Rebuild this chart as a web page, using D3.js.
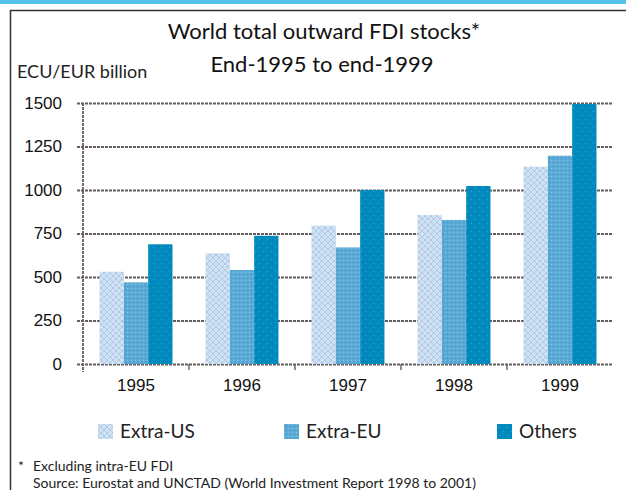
<!DOCTYPE html>
<html>
<head>
<meta charset="utf-8">
<script src="https://cdn.jsdelivr.net/npm/d3@7"></script>
<style>
  body { margin: 0; background: #fff; }
  svg { display: block; }
</style>
</head>
<body>
<svg id="chart" width="626" height="490"></svg>
<script>
// data (ECU/EUR billion)
var years = ['1995', '1996', '1997', '1998', '1999'];
var seriesNames = ['Extra-US', 'Extra-EU', 'Others'];
var extraUS = [530, 636, 795, 856, 1134];
var extraEU = [469, 540, 670, 828, 1197];
var others = [688, 737, 1000, 1023, 1494];
var yTicks = [0, 250, 500, 750, 1000, 1250, 1500];

var seriesValues = [extraUS, extraEU, others];
var fills = ['url(#patUS)', 'url(#patEU)', 'url(#patOT)'];

var svg = d3.select('#chart');
var defs = svg.append('defs');

// light blue with lavender cross hatch
var p1 = defs.append('pattern').attr('id', 'patUS')
    .attr('patternUnits', 'userSpaceOnUse').attr('width', 6).attr('height', 6);
p1.append('rect').attr('width', 6).attr('height', 6).attr('fill', '#cbe6f3');
p1.append('path').attr('d', 'M0,6 L6,0 M0,0 L6,6')
    .attr('stroke', '#b9b8e6').attr('stroke-width', 0.8);

// medium blue, dotted
var p2 = defs.append('pattern').attr('id', 'patEU')
    .attr('patternUnits', 'userSpaceOnUse').attr('width', 4).attr('height', 4);
p2.append('rect').attr('width', 4).attr('height', 4).attr('fill', '#5ba9d5');
p2.append('rect').attr('x', 0).attr('y', 0).attr('width', 1).attr('height', 1).attr('fill', '#8cc4e4');
p2.append('rect').attr('x', 2).attr('y', 2).attr('width', 1).attr('height', 1).attr('fill', '#3f97c8');

// dark blue, sparse light dots
var p3 = defs.append('pattern').attr('id', 'patOT')
    .attr('patternUnits', 'userSpaceOnUse').attr('width', 8).attr('height', 8);
p3.append('rect').attr('width', 8).attr('height', 8).attr('fill', '#0089bd');
p3.append('rect').attr('x', 2).attr('y', 3).attr('width', 1).attr('height', 1).attr('fill', '#3aaad4');
p3.append('rect').attr('x', 6).attr('y', 7).attr('width', 1).attr('height', 1).attr('fill', '#3aaad4');

// top band and frame
svg.append('rect').attr('x', 0).attr('y', 0).attr('width', 626).attr('height', 4).attr('fill', '#55c3ea');
svg.append('path').attr('d', 'M10.5,490 L10.5,10.5 L626,10.5')
    .attr('fill', 'none').attr('stroke', '#333').attr('stroke-width', 1.5);

// titles
svg.append('text').attr('x', 324).attr('y', 39).attr('text-anchor', 'middle')
    .style('font-family', 'Lato, sans-serif').style('font-size', '22px').attr('fill', '#111')
    .text('World total outward FDI stocks*');
svg.append('text').attr('x', 322).attr('y', 72).attr('text-anchor', 'middle')
    .style('font-family', 'Lato, sans-serif').style('font-size', '22px').attr('fill', '#111')
    .text('End-1995 to end-1999');
svg.append('text').attr('x', 17).attr('y', 78)
    .style('font-family', 'Lato, sans-serif').style('font-size', '18px').attr('fill', '#222')
    .text('ECU/EUR billion');

// scales
var x = d3.scaleBand().domain(years).range([83, 613]).paddingInner(0).paddingOuter(0);
var x1 = d3.scaleBand().domain(seriesNames).range([0, x.bandwidth()]).paddingOuter(0.68);
var y = d3.scaleLinear().domain([0, 1500]).range([364, 103]);

var gridColor = '#655d5d';

// y axis with grid lines
var yAxis = svg.append('g').attr('transform', 'translate(83,0)')
    .call(d3.axisLeft(y).tickValues(yTicks).tickFormat(d3.format('d')).tickSize(-530).tickPadding(21));
yAxis.select('.domain').remove();
yAxis.selectAll('line').attr('x1', -6)
    .attr('stroke', gridColor).attr('stroke-width', 1.8).attr('stroke-dasharray', '3,1');
yAxis.selectAll('text').attr('fill', '#111')
    .style('font-family', '"Liberation Sans", Arial, sans-serif').style('font-size', '17px');

// dashed vertical axis line
svg.append('line').attr('x1', 83).attr('x2', 83).attr('y1', y(1500)).attr('y2', y(0) + 8)
    .attr('stroke', gridColor).attr('stroke-width', 1.8).attr('stroke-dasharray', '3,1');

// category dividers below the axis
svg.selectAll('.divider').data(years.slice(1)).enter().append('line')
    .attr('class', 'divider')
    .attr('x1', function(d) { return x(d); }).attr('x2', function(d) { return x(d); })
    .attr('y1', y(0)).attr('y2', y(0) + 6)
    .attr('stroke', gridColor).attr('stroke-width', 1.4);

// bars
var groups = svg.selectAll('.year').data(years).enter().append('g')
    .attr('class', 'year')
    .attr('transform', function(d) { return 'translate(' + x(d) + ',0)'; });

groups.selectAll('rect')
    .data(function(d, i) {
        return seriesNames.map(function(s, j) { return { name: s, value: seriesValues[j][i], idx: j }; });
    })
    .enter().append('rect')
    .attr('x', function(d) { return x1(d.name); })
    .attr('width', x1.bandwidth())
    .attr('y', function(d) { return y(d.value); })
    .attr('height', function(d) { return y(0) - y(d.value); })
    .attr('fill', function(d) { return fills[d.idx]; });

// x axis labels
var xAxis = svg.append('g').attr('transform', 'translate(0,' + y(0) + ')')
    .call(d3.axisBottom(x).tickSize(0).tickPadding(15));
xAxis.select('.domain').remove();
xAxis.selectAll('text').attr('fill', '#111')
    .style('font-family', '"Liberation Sans", Arial, sans-serif').style('font-size', '17px');

// legend
var legendX = [98, 284, 497];
var legend = svg.selectAll('.legend').data(seriesNames).enter().append('g')
    .attr('class', 'legend')
    .attr('transform', function(d, i) { return 'translate(' + legendX[i] + ',424)'; });
legend.append('rect').attr('width', 15).attr('height', 15)
    .attr('fill', function(d, i) { return fills[i]; });
legend.append('text').attr('x', 22).attr('y', 14)
    .style('font-family', 'Lato, sans-serif').style('font-size', '19px').attr('fill', '#222')
    .text(function(d) { return d; });

// footnotes
var note = svg.append('g')
    .style('font-family', 'Lato, sans-serif').style('font-size', '14px').attr('fill', '#222');
note.append('text').attr('x', 18).attr('y', 471).text('*');
note.append('text').attr('x', 33).attr('y', 471).text('Excluding intra-EU FDI');
note.append('text').attr('x', 33).attr('y', 488)
    .text('Source: Eurostat and UNCTAD (World Investment Report 1998 to 2001)');
</script>
</body>
</html>
